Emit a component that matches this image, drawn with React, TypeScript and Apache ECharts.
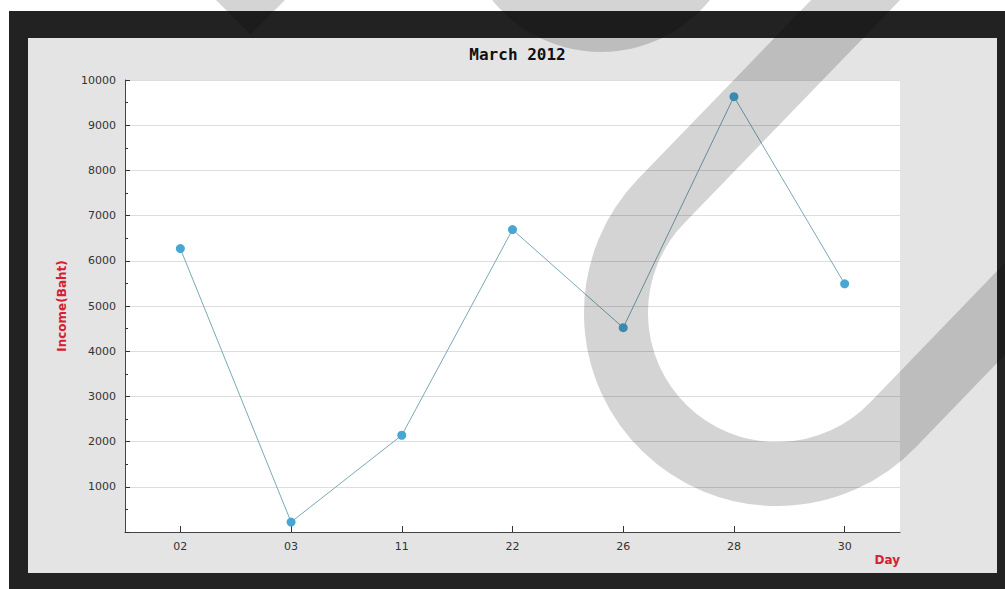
import React, { useEffect, useRef } from "react";
import * as echarts from "echarts";

const days = ["02", "03", "11", "22", "26", "28", "30"];
const income = [6270, 220, 2140, 6690, 4520, 9630, 5490];
const yMin = 0;
const yMax = 10000;
const yStep = 1000;
const chartTitle = "March 2012";
const yName = "Income(Baht)";
const xName = "Day";

const WATERMARK_D =
  "M 939.2 -86.5 L 661.2 201.1 A 161 161 0 0 0 665.1 428.8 A 161 161 0 0 0 892.8 424.9 L 1240 65.4";

let registered = false;
function ensureShape() {
  if (registered) return;
  echarts.graphic.registerShape("wmark", echarts.graphic.extendPath(WATERMARK_D, {}));
  registered = true;
}

export default function App() {
  const ref = useRef<HTMLDivElement>(null);
  useEffect(() => {
    if (!ref.current) return;
    ensureShape();
    const chart = echarts.init(ref.current, null, { renderer: "svg" });
    const shade = "rgba(0,0,0,0.17)";
    chart.setOption({
      animation: false,
      backgroundColor: "#ffffff",
      title: {
        text: chartTitle,
        left: 512.5,
        textAlign: "center",
        top: 41,
        textStyle: {
          fontFamily: "DejaVu Sans Mono",
          fontSize: 16,
          fontWeight: "bold",
          color: "#111111",
        },
      },
      grid: {
        left: 125,
        top: 80,
        width: 775,
        height: 452,
        show: true,
        backgroundColor: "#ffffff",
        borderWidth: 0,
        outerBoundsMode: "none",
      },
      xAxis: {
        type: "category",
        data: days,
        boundaryGap: true,
        name: xName,
        nameLocation: "end",
        nameGap: 0,
        nameTextStyle: {
          color: "#d42030",
          fontWeight: "bold",
          fontSize: 12,
          fontFamily: "DejaVu Sans",
          align: "right",
          verticalAlign: "top",
          padding: [22, 0, 0, 0],
        },
        axisLine: { show: true, lineStyle: { color: "#444444", width: 1 } },
        axisTick: { show: true, inside: true, alignWithLabel: true, length: 6, lineStyle: { color: "#333333" } },
        axisLabel: { color: "#333333", fontSize: 11, fontFamily: "DejaVu Sans", margin: 9 },
        splitLine: { show: false },
      },
      yAxis: {
        type: "value",
        min: yMin,
        max: yMax,
        interval: yStep,
        name: yName,
        nameLocation: "middle",
        nameRotate: 90,
        nameGap: 57,
        nameTextStyle: {
          color: "#d42030",
          fontWeight: "bold",
          fontSize: 12,
          fontFamily: "DejaVu Sans",
        },
        axisLine: { show: true, lineStyle: { color: "#444444", width: 1 } },
        axisTick: { show: true, inside: true, length: 5, lineStyle: { color: "#333333" } },
        minorTick: { show: true, splitNumber: 2, length: 3, lineStyle: { color: "#333333" } },
        axisLabel: {
          color: "#333333",
          fontSize: 11,
          fontFamily: "DejaVu Sans",
          margin: 9,
          formatter: (v: number) => (v === 0 ? "" : String(v)),
        },
        splitLine: { show: true, lineStyle: { color: "#dddddd", width: 1 } },
      },
      series: [
        {
          type: "line",
          data: income,
          symbol: "circle",
          symbolSize: 9,
          lineStyle: { color: "#7aa9b6", width: 1 },
          itemStyle: { color: "#46a7d3" },
          z: 3,
        },
      ],
      graphic: [
        { type: "rect", z: -10, shape: { x: 9, y: 11, width: 1000, height: 590 }, style: { fill: "#222222" }, silent: true },
        { type: "rect", z: -9, shape: { x: 28, y: 38, width: 969, height: 535 }, style: { fill: "#e4e4e4" }, silent: true },
        {
          type: "wmark",
          z: 100,
          x: 0,
          y: 0,
          silent: true,
          style: { fill: "none", stroke: shade, lineWidth: 64, lineCap: "butt" },
        },
        { type: "circle", z: 100, shape: { cx: 601, cy: -88, r: 140 }, style: { fill: shade }, silent: true },
        {
          type: "polygon",
          z: 100,
          shape: { points: [[205, -11], [250.5, 34.5], [296, -11]] },
          style: { fill: shade },
          silent: true,
        },
      ],
    });
    return () => chart.dispose();
  }, []);
  return (
    <div
      ref={ref}
      style={{ position: "fixed", left: 0, top: 0, width: 1005, height: 589 }}
    />
  );
}
